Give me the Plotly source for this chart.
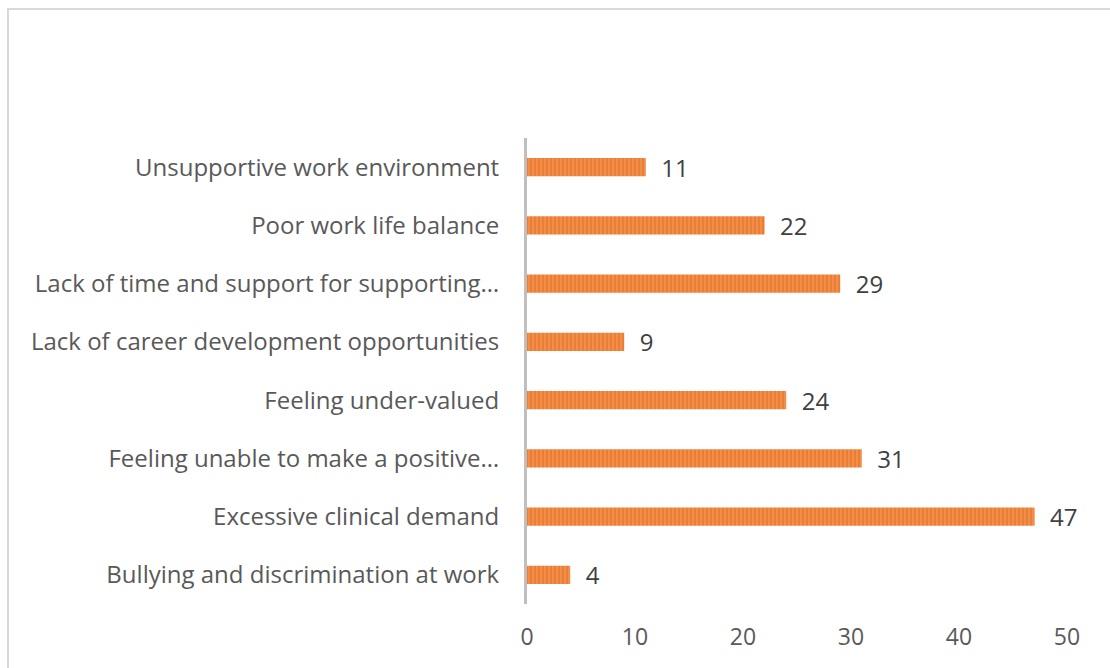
import plotly.graph_objects as go

# Reasons reported, listed bottom to top
reasons = [
    "Bullying and discrimination at work",
    "Excessive clinical demand",
    "Feeling unable to make a positive…",
    "Feeling under-valued",
    "Lack of career development opportunities",
    "Lack of time and support for supporting…",
    "Poor work life balance",
    "Unsupportive work environment",
]
counts = [4, 47, 31, 24, 9, 29, 22, 11]
x_ticks = [0, 10, 20, 30, 40, 50]

W, H = 1110, 668
L, R, T, B = 527, 43, 138, 64
FONT = "Open Sans"

fig = go.Figure(
    go.Bar(
        y=reasons,
        x=counts,
        orientation="h",
        marker=dict(
            color="#ED7D31",
            line=dict(width=0),
            pattern=dict(shape="|", fgcolor="#F6B690", bgcolor="#ED7D31",
                         size=4, solidity=0.3, fillmode="overlay"),
        ),
        text=[f"  {v}" for v in counts],
        textposition="outside",
        constraintext="none",
        textfont=dict(family=FONT, size=24, color="#404040"),
        cliponaxis=False,
        hoverinfo="skip",
    )
)

fig.update_layout(
    width=W,
    height=H,
    margin=dict(l=L, r=R, t=T, b=B, pad=0),
    paper_bgcolor="white",
    plot_bgcolor="white",
    bargap=0.69,
    showlegend=False,
    xaxis=dict(
        range=[0, 50],
        tickvals=x_ticks,
        showgrid=False,
        zeroline=False,
        showline=False,
        ticks="",
        ticklabelstandoff=17,
        tickfont=dict(family=FONT, size=23, color="#595959"),
    ),
    yaxis=dict(
        categoryorder="array",
        categoryarray=reasons,
        showgrid=False,
        zeroline=False,
        showline=True,
        linecolor="#BFBFBF",
        linewidth=3,
        ticks="",
        ticklabelstandoff=20,
        tickfont=dict(family=FONT, size=24, color="#595959"),
    ),
)

# Chart frame (right and bottom edges fall outside the page)
pw, ph = W - L - R, H - T - B
fig.add_shape(
    type="rect",
    xref="paper", yref="paper",
    x0=(8 - L) / pw, x1=(W + 20 - L) / pw,
    y0=-(B + 20) / ph, y1=(H - B - 9) / ph,
    line=dict(color="#D9D9D9", width=2),
    fillcolor="rgba(0,0,0,0)",
    layer="below",
)

fig.write_html("out.html")
